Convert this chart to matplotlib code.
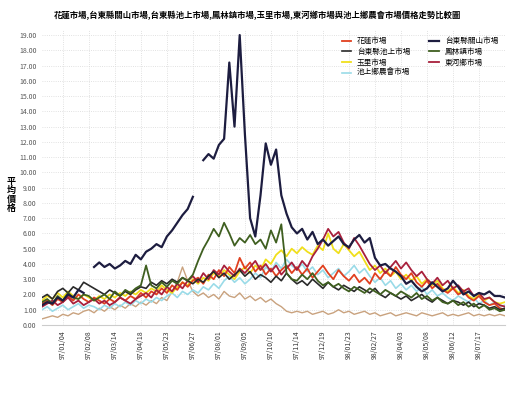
import numpy as np
import matplotlib.pyplot as plt

plt.rcParams['font.family'] = ['Noto Sans CJK TC', 'DejaVu Sans']

title = "花蓮市場,台東縣關山市場,台東縣池上市場,鳳林鎮市場,玉里市場,東河鄉市場與池上鄉農會市場價格走勢比較圖"

tick_idx = list(range(4, 89, 5))
tick_labels = ["97/01/04", "97/02/08", "97/03/14", "97/04/18", "97/05/23",
               "97/06/27", "97/08/01", "97/09/05", "97/10/10", "97/11/14",
               "97/12/19", "98/01/23", "98/02/27", "98/04/03", "98/05/08",
               "98/06/12", "98/07/17"]

nan = np.nan
navy = [1.3, 1.5, 1.4, 1.8, 1.6, 2.0, 1.8, 2.3, 2.1, nan,
        3.8, 4.1, 3.8, 4.0, 3.7, 3.9, 4.2, 4.0, 4.6, 4.3,
        4.8, 5.0, 5.3, 5.1, 5.8, 6.2, 6.7, 7.2, 7.6, 8.4,
        nan, 10.8, 11.2, 10.9, 11.8, 12.2, 17.2, 13.0, 19.0, 12.5,
        7.0, 5.8, 8.5, 11.9, 10.5, 11.5, 8.5, 7.3, 6.4, 6.0,
        6.3, 5.6, 6.1, 5.3, 5.6, 5.2, 5.5, 5.8, 5.3, 5.1,
        5.6, 5.9, 5.4, 5.7, 4.4, 3.9, 4.0, 3.7, 3.5, 3.2,
        2.7, 2.9, 2.5, 2.2, 2.4, 2.8, 2.5, 2.2, 2.4, 2.9,
        2.5, 2.0, 2.2, 1.9, 2.1, 2.0, 2.2, 1.9, 1.9, 1.8]

black = [1.8, 2.0, 1.7, 2.2, 2.4, 2.1, 2.5, 2.3, 2.8, 2.6,
         2.4, 2.2, 2.0, 2.3, 2.1, 1.9, 2.2, 2.0, 2.3, 2.5,
         2.4, 2.8, 2.6, 2.9, 2.7, 3.0, 2.8, 3.1, 2.9, 2.7,
         3.0, 2.8, 3.2, 3.5, 3.1, 3.4, 3.0, 3.3, 3.6, 3.2,
         3.5, 3.0, 3.3, 3.1, 2.8, 3.2, 2.9, 3.4, 3.0, 2.7,
         2.9, 2.6, 3.0, 2.7, 2.4, 2.8, 2.5, 2.3, 2.6, 2.4,
         2.2, 2.5, 2.3, 2.1, 2.4, 2.0, 1.8, 2.1, 1.9, 1.7,
         1.9, 1.6, 1.8, 2.0, 1.7, 1.5, 1.8, 1.6, 1.4, 1.6,
         1.5, 1.3, 1.5, 1.2, 1.4, 1.3, 1.1, 1.2, 1.0, 1.1]

green = [1.5, 1.7, 1.4, 1.9, 1.6, 2.1, 1.8, 1.7, 2.0, 1.9,
         1.6, 1.8, 2.0, 1.7, 2.2, 1.9, 2.3, 2.1, 2.4, 2.6,
         3.9, 2.6, 2.4, 2.8, 2.5, 2.9, 2.7, 3.1, 2.9, 3.3,
         4.2, 5.0, 5.6, 6.3, 5.8, 6.7, 6.0, 5.2, 5.7, 5.4,
         5.9, 5.3, 5.6, 5.0, 6.2, 5.4, 6.6, 3.4, 3.0, 2.9,
         3.3, 3.0, 3.4, 2.9, 2.6, 2.8, 2.5, 2.7, 2.4, 2.2,
         2.5, 2.3, 2.1, 2.4, 2.2, 2.0, 2.3, 2.1, 1.9, 2.2,
         2.0, 1.8, 2.1, 1.7, 1.9, 1.6, 1.8, 1.5, 1.4, 1.6,
         1.3, 1.5, 1.2, 1.4, 1.1, 1.3, 1.0, 1.1, 0.9, 1.0]

red = [1.4, 1.6, 1.3, 1.7, 1.5, 1.9, 1.6, 2.0, 1.7, 1.5,
       1.8, 1.6, 1.4, 1.7, 1.5, 1.8, 1.6, 1.9, 1.7, 2.1,
       1.8, 2.2, 2.0, 2.4, 2.1, 2.6, 2.3, 2.8, 2.5, 2.9,
       3.1, 2.7, 3.3, 3.0, 3.6, 3.2, 3.8, 3.4, 4.4, 3.7,
       4.1, 3.5, 3.9, 3.3, 3.7, 3.2, 3.6, 3.9, 3.4, 3.8,
       3.3, 3.7, 3.1, 3.5, 3.9, 3.4, 3.0, 3.6, 3.2, 2.9,
       3.3, 2.8, 3.1, 2.7, 3.4, 3.0, 3.5, 3.2, 3.8, 3.3,
       3.0, 3.4, 2.8, 2.5, 2.9, 2.4, 2.7, 2.3, 2.1, 2.4,
       2.0, 2.2, 1.8, 1.6, 1.9, 1.5, 1.3, 1.4, 1.1, 1.0]

maroon = [1.2, 1.4, 1.6, 1.3, 1.5, 1.8, 1.4, 1.6, 1.3, 1.5,
          1.7, 1.4, 1.6, 1.3, 1.5, 1.8, 1.6, 1.4, 1.7, 1.9,
          2.1, 1.8, 2.3, 2.0, 2.5, 2.2, 2.7, 2.4, 2.9, 3.2,
          2.8, 3.4, 3.0, 3.6, 3.3, 3.9, 3.5, 3.2, 3.7, 3.4,
          3.8, 4.2, 3.6, 4.0, 3.5, 3.9, 3.3, 3.7, 4.1, 3.6,
          4.2, 3.8, 4.5, 5.0, 5.6, 6.3, 5.8, 6.1, 5.4, 5.0,
          5.7, 5.2, 4.6, 4.0, 3.6, 3.9, 3.4, 3.8, 4.2, 3.7,
          4.1, 3.6, 3.2, 3.5, 3.0, 2.7, 3.1, 2.6, 2.9, 2.4,
          2.6, 2.2, 2.4, 1.9, 2.1, 1.7, 1.8, 1.5, 1.3, 1.2]

yellow = [1.6, 1.9, 1.7, 2.1, 1.8, 2.2, 1.9, 1.7, 2.0, 1.8,
          1.6, 1.9, 1.7, 2.0, 1.8, 2.1, 1.9, 2.2, 2.0, 2.3,
          2.1, 2.4, 2.2, 2.6, 2.3, 2.1, 2.5, 2.8, 2.6, 3.0,
          2.7, 3.1, 2.9, 3.4, 3.2, 3.6, 3.3, 3.0, 3.5, 3.8,
          3.4, 3.9, 3.6, 4.3, 4.0, 4.6, 4.9, 4.5, 5.0, 4.7,
          5.1, 4.8, 4.6, 5.2, 4.9, 6.0, 5.0, 4.7, 5.3, 4.9,
          4.5, 4.8, 4.2, 3.6, 3.9, 3.4, 3.7, 3.2, 3.5, 3.0,
          3.3, 2.9, 3.2, 2.7, 3.0, 2.6, 2.9, 2.4, 2.2, 2.5,
          2.1, 2.3, 1.9, 1.7, 2.0, 1.6, 1.8, 1.5, 1.4, 1.5]

cyan = [1.0, 1.2, 0.9, 1.1, 1.3, 1.0, 1.2, 1.4, 1.1, 1.3,
        1.2, 1.0, 1.3, 1.1, 1.4, 1.2, 1.5, 1.3, 1.6, 1.4,
        1.7, 1.5, 1.8, 1.6, 1.9, 2.1, 1.8, 2.2, 2.0, 2.3,
        2.1, 2.5, 2.3, 2.7, 2.4, 2.9, 3.2, 2.8, 3.1, 2.7,
        3.0, 3.4, 3.1, 3.8, 3.5, 4.1, 3.7, 4.3, 3.9, 3.6,
        4.0, 3.5, 3.8, 3.3, 3.6, 3.1, 3.4, 3.7, 3.2, 3.5,
        3.9, 3.4, 3.7, 3.2, 2.8, 3.1, 2.6, 2.9, 2.4, 2.7,
        2.3, 2.6, 2.2, 2.5, 2.0, 2.3, 1.9, 2.1, 1.8, 1.6,
        1.9, 1.7, 1.5, 1.8, 1.4, 1.6, 1.3, 1.5, 1.2, 1.3]

tan = [0.4, 0.5, 0.6, 0.5, 0.7, 0.6, 0.8, 0.7, 0.9, 1.0,
       0.8, 1.1, 0.9, 1.2, 1.0, 1.3, 1.1, 1.4, 1.2, 1.5,
       1.3, 1.6, 1.4, 1.8, 1.6, 2.2, 2.8, 3.8, 2.9, 2.2,
       1.9, 2.1, 1.8, 2.0, 1.7, 2.2, 1.9, 1.8, 2.1, 1.7,
       1.9, 1.6, 1.8, 1.5, 1.7, 1.4, 1.2, 0.9, 0.8, 0.9,
       0.8, 0.9, 0.7, 0.8, 0.9, 0.7, 0.8, 1.0, 0.8, 0.9,
       0.7, 0.8, 0.9, 0.7, 0.8, 0.6, 0.7, 0.8, 0.6, 0.7,
       0.8, 0.7, 0.6, 0.8, 0.7, 0.6, 0.7, 0.8, 0.6, 0.7,
       0.6, 0.7, 0.8, 0.6, 0.7, 0.6, 0.7, 0.6, 0.7, 0.6]

x = np.arange(len(navy))

fig = plt.figure(figsize=(5.15, 4.07), dpi=100, facecolor="white")
ax = fig.add_axes([0.0816, 0.2015, 0.899, 0.7236])

# background lines first, dark ones on top
ax.plot(x, tan, color="#c9a27e", lw=1.0, label="_nolegend_")
l_cyan, = ax.plot(x, cyan, color="#9adbe8", lw=1.2)
l_yellow, = ax.plot(x, yellow, color="#f0df1c", lw=1.3)
l_red, = ax.plot(x, red, color="#e0401f", lw=1.3)
l_maroon, = ax.plot(x, maroon, color="#a8203c", lw=1.3)
l_black, = ax.plot(x, black, color="#2a2a2a", lw=1.2)
l_green, = ax.plot(x, green, color="#3f5f20", lw=1.3)
l_navy, = ax.plot(x, navy, color="#1d1d40", lw=1.6)

handles = [l_red, l_black, l_yellow, l_cyan, l_navy, l_green, l_maroon]
names = ["花蓮市場", "台東縣池上市場", "玉里市場", "池上鄉農會市場",
         "台東縣關山市場", "鳳林鎮市場", "東河鄉市場"]
ax.legend(handles, names, ncol=2, loc="upper right", bbox_to_anchor=(1.0, 1.0),
          frameon=False, fontsize=5.5, handlelength=1.2, columnspacing=2.5,
          labelspacing=0.35)

ax.set_xlim(0, len(navy) - 1)
ax.set_ylim(0, 19.3)
ax.set_yticks(np.arange(0, 20, 1))
ax.set_yticklabels(["%.2f" % v for v in np.arange(0, 20, 1)], fontsize=5, color="#555555")
ax.set_xticks(tick_idx)
ax.set_xticklabels(tick_labels, rotation=90, fontsize=5, color="#333333")
ax.tick_params(length=0, pad=4)
ax.grid(True, color="#d8d8d8", linestyle=":", linewidth=0.6)
for s in ax.spines.values():
    s.set_visible(False)
ax.spines["bottom"].set_visible(True)
ax.spines["bottom"].set_color("#cccccc")

fig.text(0.5, 0.962, title, ha="center", va="center", fontsize=6, fontweight="bold")
fig.text(0.022, 0.52, "平\n均\n價\n格", ha="center", va="center", fontsize=6.5,
         fontweight="bold", linespacing=1.0)

plt.savefig("out.png", dpi=100, facecolor=fig.get_facecolor())
